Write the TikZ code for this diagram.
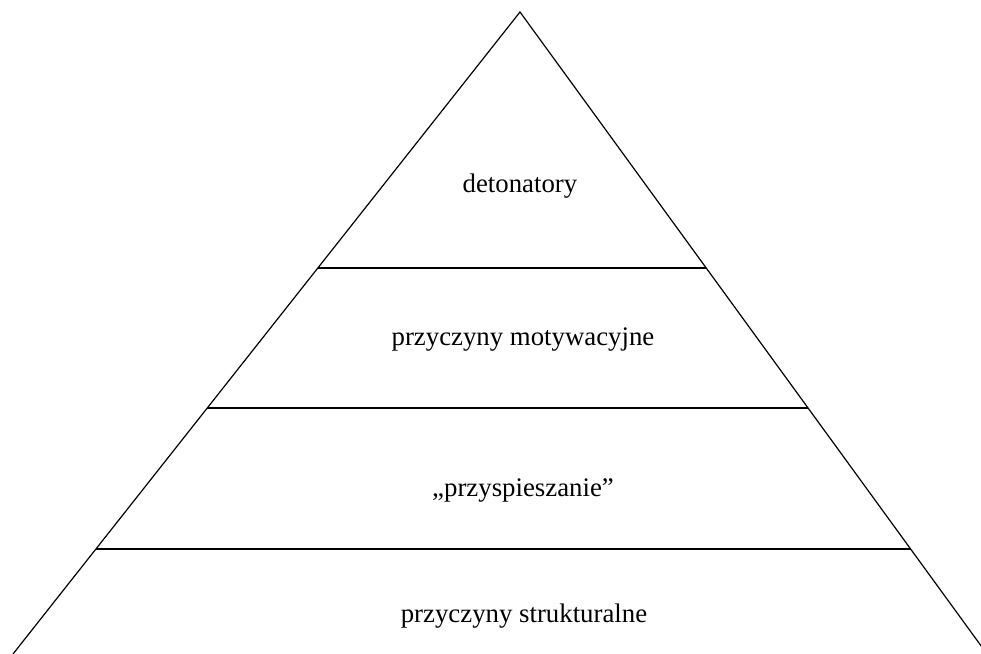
\documentclass[tikz,border=0pt]{standalone}
\usepackage{fontspec}
\setmainfont{Liberation Serif}
\usetikzlibrary{calc}
\tikzset{
  level/.style={anchor=base, inner sep=0pt, font=\fontsize{13.4}{16}\selectfont},
}
\begin{document}
\begin{tikzpicture}[x=0.5pt, y=-0.5pt, line width=0.6pt]
  \useasboundingbox (0,0) rectangle (981,654);
  \clip (0,0) rectangle (981,654);
  \coordinate (top) at (520,12);
  \coordinate (bl) at (13,654);
  \coordinate (br) at (987,654);

  \coordinate (l1) at ($(top)!0.3988!(bl)$);
  \coordinate (r1) at ($(top)!0.3988!(br)$);
  \coordinate (l2) at ($(top)!0.6168!(bl)$);
  \coordinate (r2) at ($(top)!0.6168!(br)$);
  \coordinate (l3) at ($(top)!0.8364!(bl)$);
  \coordinate (r3) at ($(top)!0.8364!(br)$);

  \draw (bl) -- (top) -- (br);
  \draw (l1) -- (r1);
  \draw (l2) -- (r2);
  \draw (l3) -- (r3);

  \node[level] (det) at (520,192) {detonatory};
  \node[level] (mot) at (523,345) {przyczyny motywacyjne};
  \node[level] (prz) at (523,496) {„przyspieszanie”};
  \node[level] (str) at (524,622) {przyczyny strukturalne};
\end{tikzpicture}
\end{document}
